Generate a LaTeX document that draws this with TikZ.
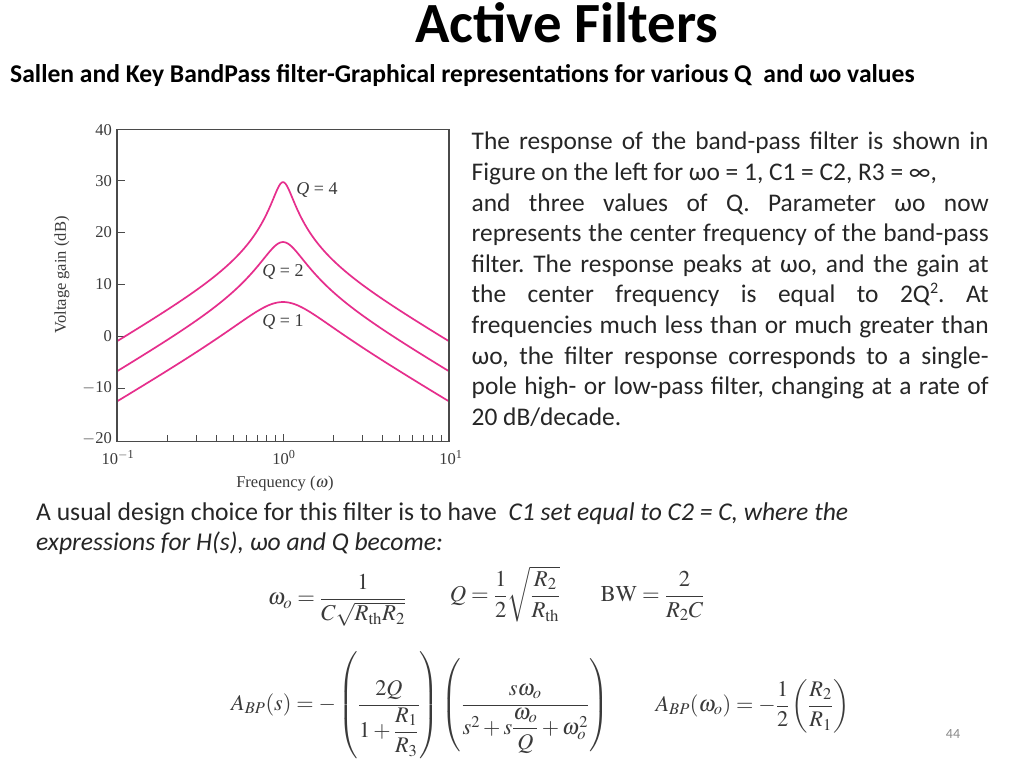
\documentclass[tikz,border=0pt]{standalone}
\usepackage{mathptmx}
\usepackage{amsmath}
\usepackage{fontspec}
\setmainfont{Carlito}
\newfontfamily\plotfont{Liberation Serif}
\usetikzlibrary{calc}
\definecolor{inkc}{HTML}{262626}
\definecolor{axisc}{HTML}{4A4A4A}
\definecolor{curvec}{HTML}{E62E8C}
\definecolor{plotc}{HTML}{3A3A3A}
\definecolor{numc}{HTML}{8A8A8A}
\newcommand{\px}[1]{\fontsize{#1}{#1}\selectfont}
\tikzset{
  titletxt/.style={anchor=base,inner sep=0pt,font=\px{56.8}\bfseries,text=black},
  subtxt/.style={anchor=base west,inner sep=0pt,font=\px{25.6}\bfseries,text=black},
  bodytxt/.style={anchor=base west,inner sep=0pt,font=\px{25.4},text=inkc},
  lowtxt/.style={anchor=base west,inner sep=0pt,font=\px{25.6},text=inkc},
  axlab/.style={inner sep=0pt,font=\plotfont\px{16.5},text=plotc},
  qlab/.style={inner sep=0pt,font=\plotfont\px{18},text=plotc},
  curveline/.style={draw=curvec,line width=1.7pt,line join=round},
  frameline/.style={draw=axisc,line width=1.1pt},
  tickline/.style={draw=axisc,line width=.9pt},
  eqn/.style={inner sep=0pt,text=plotc,font=\px{22.7}},
  eqnb/.style={inner sep=0pt,text=plotc,font=\px{22.3}},
  declare function={
    px(\l)=117+(\l+1)*166;
    py(\d)=336-5.2*\d;
    cy(\g)=332-4.98*\g;
    gain(\l,\q)=20*log10(2*\q*pow(10,\l)/sqrt(pow(1-pow(10,2*\l),2)+pow(10,2*\l)/(\q*\q)));
  }
}
\begin{document}
\begin{tikzpicture}[x=1pt,y=-1pt]
\useasboundingbox (0,0) rectangle (1024,768);
\fill[white] (0,0) rectangle (1024,768);
\node[titletxt] (title) at (567,43) {Active Filters};
\node[subtxt] (subtitle) at (10,82) {Sallen and Key BandPass filter-Graphical representations for various Q\ \ and ωo values};

% plot frame
\coordinate (pa) at (117,129.5);
\coordinate (pb) at (449,441.5);
\foreach \t in {0.30103,0.47712,0.60206,0.69897,0.77815,0.84510,0.90309,0.95424}{
  \draw[tickline] ({px(\t-1)},441.5) -- ++(0,-7);
  \draw[tickline] ({px(\t)},441.5) -- ++(0,-7);
}
\draw[tickline] ({px(0)},441.5) -- ++(0,-8);
\foreach \d in {30,20,10,0,-10}{
  \draw[tickline] (117,{py(\d)}) -- ++(8,0);
}
\foreach \q in {1,2,4}{
  \draw[curveline] plot[domain=-1:1,samples=241,smooth] ({px(\x)},{cy(gain(\x,\q))});
}
\draw[frameline] (pa) rectangle (pb);
% y labels
\node[axlab,anchor=east] (y40) at (112,130) {40};
\node[axlab,anchor=east] (y30) at (112,181) {30};
\node[axlab,anchor=east] (y20) at (112,232) {20};
\node[axlab,anchor=east] (y10) at (112,284) {10};
\node[axlab,anchor=east] (y0) at (112,336) {0};
\node[axlab,anchor=east] (ym10) at (112,388) {$-$10};
\node[axlab,anchor=east] (ym20) at (112,439) {$-$20};
% x labels
\node[axlab,anchor=base] (x1) at (118,464) {10\textsuperscript{$-$1}};
\node[axlab,anchor=base] (x2) at (284,464) {10\textsuperscript{0}};
\node[axlab,anchor=base] (x3) at (451,464) {10\textsuperscript{1}};
\node[axlab,anchor=base] (xlab) at (285,487) {Frequency ($\omega$)};
\node[axlab,rotate=90] (ylab) at (62,275) {Voltage gain (dB)};
\node[qlab] (q4) at (317,190) {\textit{Q} = 4};
\node[qlab] (q2) at (283,272) {\textit{Q} = 2};
\node[qlab] (q1) at (283,322) {\textit{Q} = 1};

% right paragraph
\node[bodytxt,text width=517pt,align=justify,anchor=north west] (para) at (471.5,132) {\frenchspacing\baselineskip=30.6pt\parfillskip=0pt plus 1fil
The response of the band-pass filter is shown in\linebreak
Figure on the left for ωo = 1, C1 = C2, R3 = ∞,\hfill\break
and three values of Q. Parameter ωo now\linebreak
represents the center frequency of the band-pass\linebreak
filter. The response peaks at ωo, and the gain at\linebreak
the center frequency is equal to 2Q\raisebox{.36em}{\px{16}2}. At\linebreak
frequencies much less than or much greater than\linebreak
ωo, the filter response corresponds to a single-\linebreak
pole high- or low-pass filter, changing at a rate of\linebreak
20 dB/decade.\par};

\node[lowtxt] (l1) at (36,520) {A usual design choice for this filter is to have\ \ \textit{C1 set equal to C2 = C, where the}};
\node[lowtxt] (l2) at (36,550) {\textit{expressions for H(s), ωo and Q become:}};

% equations
\node[eqn] (e1) at (337,600) {$\displaystyle \omega_o=\frac{1}{C\sqrt{R_{\mathrm{th}}R_2}}$};
\node[eqn] (e2) at (505,594) {$\displaystyle Q=\frac12\sqrt{\frac{R_2}{R_{\mathrm{th}}}}$};
\node[eqn] (e3) at (652.5,596) {$\displaystyle \mathrm{BW}=\frac{2}{R_2C}$};
\node[eqnb] (e4) at (420,705) {$\delimiterfactor=820\displaystyle A_{BP}(s)=-\left(\frac{2Q}{1+\dfrac{R_1}{R_3}}\right)\left(\frac{s\omega_o}{s^2+s\dfrac{\omega_o}{Q}+\omega_o^2}\right)$};
\node[eqnb] (e5) at (752.5,706) {$\displaystyle A_{BP}(\omega_o)=-\frac12\left(\frac{R_2}{R_1}\right)$};
\node[inner sep=0pt,anchor=base,font=\px{14},text=numc] (pg) at (953,738) {44};
\end{tikzpicture}
\end{document}
